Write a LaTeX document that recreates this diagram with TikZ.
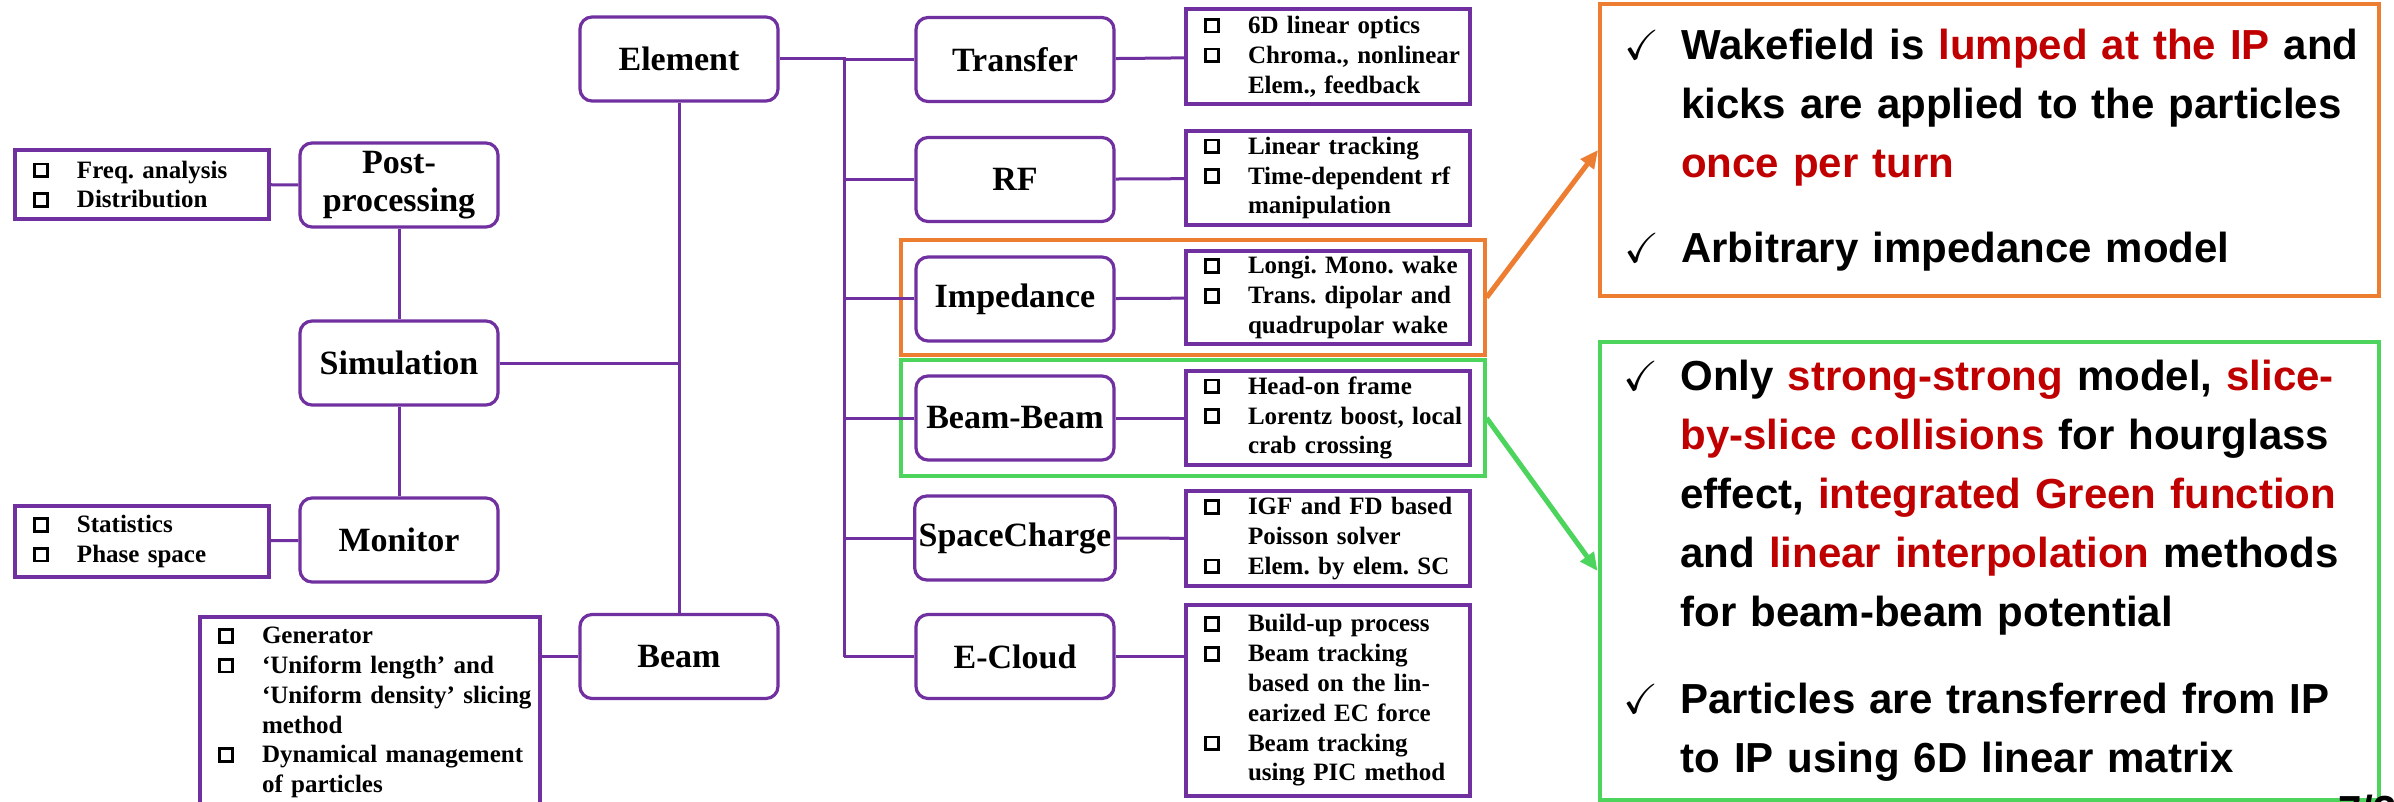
\documentclass[tikz,border=0pt]{standalone}
\usepackage{amssymb}
\usepackage{fontspec}
\setmainfont{Liberation Serif}
\newfontfamily\arialf{Liberation Sans}
\usetikzlibrary{arrows.meta,fit}
\definecolor{boxpurple}{HTML}{7030A0}
\definecolor{frameorange}{HTML}{ED7D31}
\definecolor{framegreen}{HTML}{4CD45C}
\definecolor{hired}{HTML}{C00000}
\frenchspacing
\newcommand{\chk}{\raisebox{1.4pt}{\setlength{\fboxsep}{0pt}\setlength{\fboxrule}{1.4pt}\fbox{\rule{0pt}{5pt}\hspace{5pt}}}}
\newcommand{\itm}{\makebox[31pt][l]{\hspace{9pt}\chk}}
\newcommand{\cnt}{\hspace*{31pt}}
\newcommand{\tick}{\makebox[40.5pt][l]{\hspace{12pt}$\checkmark$}}
\newcommand{\tcnt}{\hspace*{40.5pt}}
\newcommand{\hl}[1]{\textcolor{hired}{#1}}

\begin{document}
\begin{tikzpicture}[x=0.5pt,y=-0.5pt,
    module/.style={draw=boxpurple,line width=1.6pt,rounded corners=6pt,minimum width=99pt,
      minimum height=42pt,align=center,inner sep=2pt,font=\fontsize{17}{19}\selectfont\bfseries},
    featlist/.style={draw=boxpurple,line width=1.6pt,inner xsep=0pt,inner ysep=2pt,align=left,
      font=\fontsize{12.5}{14.9}\selectfont\bfseries},
    link/.style={draw=boxpurple,line width=1.5pt},
    hiframe/.style={line width=2pt,inner xsep=6.5pt,inner ysep=4.5pt},
    notebox/.style={line width=2pt,inner xsep=0pt,text width=389.5pt,align=left,
      font=\fontsize{21}{29.5}\selectfont\arialf\bfseries},
    pointer/.style={line width=2.5pt,-{Triangle[length=9pt,width=8pt]}}]
  \useasboundingbox (0,0) rectangle (2394,802);

  % left tree
  \node[module] (elem) at (679,59) {Element};
  \node[module] (beam) at (679,656.5) {Beam};
  \node[module] (post) at (399,185) {Post-\\processing};
  \node[module] (sim) at (399,363) {Simulation};
  \node[module] (mon) at (399,540) {Monitor};
  \node[featlist,text width=127pt,minimum height=34.5pt] (freq) at (142,184.5)
    {\itm Freq. analysis\\\itm Distribution};
  \node[featlist,text width=127pt,minimum height=35.5pt] (stat) at (142,541.5)
    {\itm Statistics\\\itm Phase space};
  \node[featlist,text width=170pt,minimum height=95.5pt] (bml) at (370,712.5)
    {\itm Generator\\\itm ‘Uniform length’ and\\\cnt ‘Uniform density’ slicing\\\cnt method\\
     \itm Dynamical management\\\cnt of particles};

  % element types
  \node[module] (trf) at (1015,59.5) {Transfer};
  \node[module] (rf) at (1015,179.5) {RF};
  \node[module] (imp) at (1015,299) {Impedance};
  \node[module] (bb) at (1015,418) {Beam-Beam};
  \node[module] (sc) at (1015,538) {SpaceCharge};
  \node[module] (ec) at (1015,656.5) {E-Cloud};

  \node[featlist,text width=142pt,minimum height=47.5pt] (trfl) at (1328,56.5)
    {\itm 6D linear optics\\\itm Chroma., nonlinear\\\cnt Elem., feedback};
  \node[featlist,text width=142pt,minimum height=47pt] (rfl) at (1328,178)
    {\itm Linear tracking\\\itm Time-dependent rf\\\cnt manipulation};
  \node[featlist,text width=142pt,minimum height=46.5pt] (impl) at (1328,297.5)
    {\itm Longi. Mono. wake\\\itm Trans. dipolar and\\\cnt quadrupolar wake};
  \node[featlist,text width=142pt,minimum height=47pt] (bbl) at (1328,418)
    {\itm Head-on frame\\\itm Lorentz boost, local\\\cnt crab crossing};
  \node[featlist,text width=142pt,minimum height=47.5pt] (scl) at (1328,538.5)
    {\itm IGF and FD based\\\cnt Poisson solver\\\itm Elem. by elem. SC};
  \node[featlist,text width=142pt,minimum height=95.5pt] (ecl) at (1328,700.5)
    {\itm Build-up process\\\itm Beam tracking\\\cnt based on the lin-\\\cnt earized EC force\\
     \itm Beam tracking\\\cnt using PIC method};

  \node[hiframe,draw=frameorange,fit=(imp)(impl)] (impfr) {};
  \node[hiframe,draw=framegreen,fit=(bb)(bbl)] (bbfr) {};

  % notes
  \node[notebox,draw=frameorange,minimum height=146pt] (wake) at (1989.5,150)
    {\tick Wakefield is \hl{lumped at the IP} and\\
     \tcnt kicks are applied to the particles\\
     \tcnt \hl{once per turn}\\[13pt]
     \tick Arbitrary impedance model};
  \node[notebox,draw=framegreen,minimum height=229pt] (bbnote) at (1989,571)
    {\tick Only \hl{strong-strong} model, \hl{slice-}\\
     \tcnt \hl{by-slice collisions} for hourglass\\
     \tcnt effect, \hl{integrated Green function}\\
     \tcnt and \hl{linear interpolation} methods\\
     \tcnt for beam-beam potential\\[14pt]
     \tick Particles are transferred from IP\\
     \tcnt to IP using 6D linear matrix};
  \node[anchor=north west,inner sep=0pt,font=\fontsize{21}{21}\selectfont\arialf\bfseries] (pgnum)
    at (2338,795) {7/3};

  % connectors
  \draw[link] (freq) -- (post);
  \draw[link] (post) -- (sim);
  \draw[link] (sim) -- (mon);
  \draw[link] (stat) -- (mon);
  \draw[link] (elem) -- (beam);
  \draw[link] (sim) -- (sim -| elem);
  \draw[link] (beam.west) -- (beam.west -| bml.east);
  \coordinate (trunk) at (844,59);
  \draw[link] (elem) -- (trunk) -- (trunk |- ec);
  \foreach \m in {trf,rf,imp,bb,sc,ec}
    \draw[link] (trunk |- \m) -- (\m);
  \foreach \m/\l in {trf/trfl,rf/rfl,imp/impl,bb/bbl,sc/scl}
    \draw[link] (\m) -- (\l);
  \draw[link] (ec.east) -- (ec.east -| ecl.west);

  \draw[pointer,frameorange] (impfr.east) -- (wake.west);
  \draw[pointer,framegreen] (bbfr.east) -- (bbnote.west);
\end{tikzpicture}
\end{document}
